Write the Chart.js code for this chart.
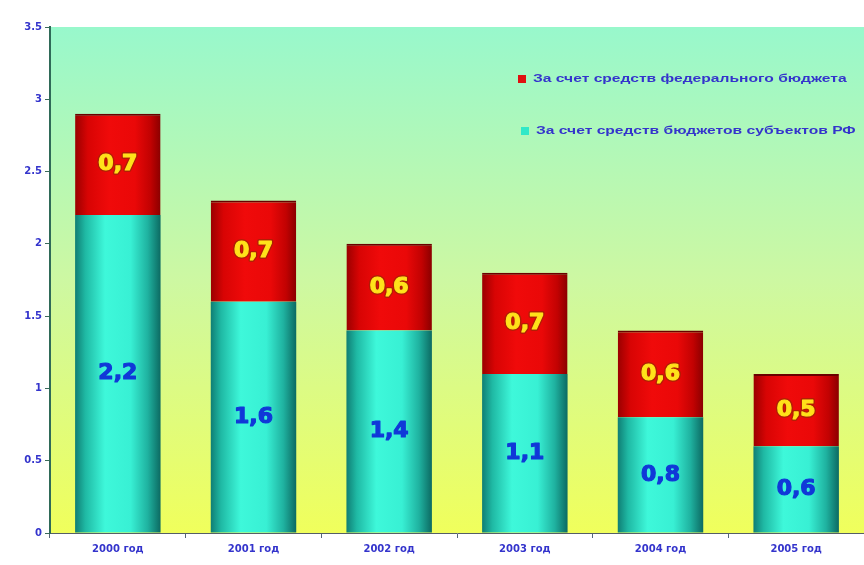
<!DOCTYPE html>
<html lang="ru">
<head>
<meta charset="utf-8">
<title>Финансирование по годам</title>
<script src="https://cdn.jsdelivr.net/npm/chart.js@4/dist/chart.umd.min.js"></script>
<style>
  html, body { margin: 0; padding: 0; background: #ffffff; }
  #wrap { width: 864px; height: 565px; }
</style>
</head>
<body>
<div id="wrap"><canvas id="budgetChart" width="864" height="565"></canvas></div>
<script>
// Годы и объёмы финансирования
const years = ['2000 год', '2001 год', '2002 год', '2003 год', '2004 год', '2005 год'];
const regionalBudget = [2.2, 1.6, 1.4, 1.1, 0.8, 0.6];   // бюджеты субъектов РФ
const federalBudget = [0.7, 0.7, 0.6, 0.7, 0.6, 0.5];    // федеральный бюджет
const yTicks = [0, 0.5, 1, 1.5, 2, 2.5, 3, 3.5];

const legendItems = [
    { text: 'За счет средств федерального бюджета', color: '#e01010' },
    { text: 'За счет средств бюджетов субъектов РФ', color: '#30e8c8' }
];

const BLUE = '#3434cc';
const AXIS_FONT = { family: '"DejaVu Sans", sans-serif', size: 10, weight: 'bold' };

// Горизонтальный градиент "цилиндра" для столбца
function barGradient(context, stops) {
    const chart = context.chart;
    const xScale = chart.scales.x;
    if (!xScale || !chart.chartArea) return stops[2][1];
    const cx = xScale.getPixelForValue(context.dataIndex);
    const w = (xScale.width / years.length) * 0.63;
    const g = chart.ctx.createLinearGradient(cx - w / 2, 0, cx + w / 2, 0);
    stops.forEach(s => g.addColorStop(s[0], s[1]));
    return g;
}

const cyanStops = [
    [0, '#0f7e74'], [0.12, '#1fb9a4'], [0.35, '#3ef8da'],
    [0.65, '#38f0d4'], [0.85, '#1fb2a0'], [1, '#0c6a62']
];
const redStops = [
    [0, '#9a0000'], [0.15, '#d80404'], [0.4, '#f00a0a'],
    [0.7, '#ea0808'], [0.88, '#c20202'], [1, '#8a0000']
];

// Фон области построения: мятный сверху, жёлтый снизу
const plotBackground = {
    id: 'plotBackground',
    beforeDraw(chart) {
        const { ctx, chartArea: a } = chart;
        const g = ctx.createLinearGradient(0, a.top, 0, a.bottom);
        g.addColorStop(0, '#98f8cc');
        g.addColorStop(0.5, '#cdf8a2');
        g.addColorStop(1, '#f0ff5c');
        ctx.save();
        ctx.fillStyle = g;
        ctx.fillRect(a.left, a.top, a.right - a.left, a.bottom - a.top);
        ctx.restore();
    }
};

// Подписи значений внутри сегментов и легенда
const valueLabels = {
    id: 'valueLabels',
    afterDatasetsDraw(chart) {
        const ctx = chart.ctx;
        ctx.save();
        ctx.font = 'bold 22px "DejaVu Sans", sans-serif';
        ctx.textAlign = 'center';
        ctx.textBaseline = 'middle';
        ctx.lineJoin = 'round';
        chart.data.datasets.forEach((ds, di) => {
            const meta = chart.getDatasetMeta(di);
            meta.data.forEach((bar, i) => {
                const txt = String(ds.data[i]).replace('.', ',');
                const y = (bar.y + bar.base) / 2;
                if (di === 1) {
                    ctx.lineWidth = 4;
                    ctx.strokeStyle = 'rgba(130,50,0,0.55)';
                    ctx.strokeText(txt, bar.x, y);
                    ctx.fillStyle = '#ffe21a';
                    ctx.strokeStyle = '#ffe21a';
                } else {
                    ctx.fillStyle = '#1038d8';
                    ctx.strokeStyle = '#1038d8';
                }
                // обводка тем же цветом — более жирное начертание
                ctx.lineWidth = 1.2;
                ctx.strokeText(txt, bar.x, y);
                ctx.fillText(txt, bar.x, y);
            });
        });
        ctx.restore();
    },
    afterDraw(chart) {
        const ctx = chart.ctx;
        ctx.save();
        ctx.font = 'bold 11px "Liberation Sans", Arial, sans-serif';
        ctx.textBaseline = 'middle';
        legendItems.forEach((item, i) => {
            const x = 518 + i * 3;
            const y = 79 + i * 52;
            ctx.fillStyle = item.color;
            ctx.fillRect(x, y - 4, 8, 8);
            ctx.save();
            ctx.translate(x + 15, y);
            ctx.scale(1.42, 1);
            ctx.fillStyle = BLUE;
            ctx.fillText(item.text, 0, 0);
            ctx.restore();
        });
        ctx.restore();
    }
};

new Chart(document.getElementById('budgetChart'), {
    type: 'bar',
    data: {
        labels: years,
        datasets: [
            {
                label: 'За счет средств бюджетов субъектов РФ',
                data: regionalBudget,
                backgroundColor: ctx => barGradient(ctx, cyanStops),
                borderWidth: 0,
                categoryPercentage: 1,
                barPercentage: 0.63
            },
            {
                label: 'За счет средств федерального бюджета',
                data: federalBudget,
                backgroundColor: ctx => barGradient(ctx, redStops),
                borderColor: '#6a0000',
                borderWidth: { top: 2, left: 0, right: 0, bottom: 0 },
                categoryPercentage: 1,
                barPercentage: 0.63
            }
        ]
    },
    options: {
        responsive: false,
        animation: false,
        layout: { padding: { top: 27, right: 0, left: 0, bottom: 0 } },
        plugins: {
            legend: { display: false },
            tooltip: { enabled: false }
        },
        scales: {
            x: {
                stacked: true,
                grid: {
                    display: true,
                    drawOnChartArea: false,
                    offset: true,
                    tickLength: 5,
                    color: '#556677'
                },
                border: { display: true, color: '#555f66', width: 1 },
                ticks: {
                    color: BLUE,
                    font: AXIS_FONT,
                    padding: 5,
                    maxRotation: 0
                },
                afterFit(scale) { scale.height = 32; }
            },
            y: {
                stacked: true,
                min: 0,
                max: 3.5,
                afterBuildTicks(scale) { scale.ticks = yTicks.map(v => ({ value: v })); },
                grid: {
                    display: true,
                    drawOnChartArea: false,
                    tickLength: 5,
                    color: '#3a6a5a'
                },
                border: { display: true, color: '#2f6a58', width: 2 },
                ticks: {
                    color: BLUE,
                    font: AXIS_FONT,
                    padding: 3,
                    callback: v => String(v)
                },
                afterFit(scale) { scale.width = 50; }
            }
        }
    },
    plugins: [plotBackground, valueLabels]
});
</script>
</body>
</html>
